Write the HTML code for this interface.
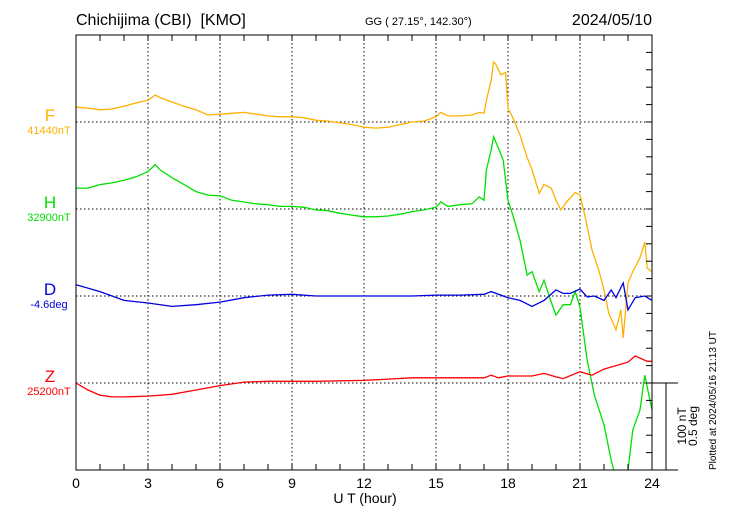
<!DOCTYPE html>
<html><head><meta charset="utf-8"><style>
body{margin:0;background:#fff;}
svg{font-family:"Liberation Sans",sans-serif;display:block}
text{white-space:pre}
</style></head><body>
<svg id="c" width="730" height="520" viewBox="0 0 730 520">
<defs><clipPath id="pc"><rect x="76" y="35" width="576" height="435"/></clipPath></defs>
<text x="76" y="25" font-size="16" xml:space="preserve">Chichijima (CBI)  [KMO]</text>
<text x="365" y="25" font-size="11">GG ( 27.15°, 142.30°)</text>
<text x="652" y="25" font-size="16" text-anchor="end">2024/05/10</text>
<g id="grid"></g>
<g id="lines" clip-path="url(#pc)"></g>
<g id="axes"></g>
<text x="365" y="503" font-size="14" text-anchor="middle">U T (hour)</text>
<text transform="translate(686,426) rotate(-90)" font-size="12" text-anchor="middle">100 nT</text>
<text transform="translate(697,426) rotate(-90)" font-size="12" text-anchor="middle">0.5 deg</text>
<text transform="translate(716,470) rotate(-90)" font-size="10">Plotted at 2024/05/16 21:13 UT</text>
</svg>
<script>
const comps=["F","H","D","Z"];
const colors=["#ffb000","#00e000","#0000e0","#ff0000"];
const baseLabels=["41440nT","32900nT","-4.6deg","25200nT"];
const xTicks=[0,3,6,9,12,15,18,21,24];
const tF=[0,0.5,1,1.5,2,2.5,3,3.3,3.5,4,4.5,5,5.5,6,6.5,7,7.5,8,8.5,9,9.5,10,10.5,11,11.5,12,12.5,13,13.5,14,14.5,15,15.2,15.5,16,16.5,16.8,17,17.1,17.3,17.4,17.5,17.7,17.9,18,18.2,18.5,18.8,19,19.3,19.5,19.8,20,20.2,20.5,20.8,21,21.2,21.5,21.8,22,22.2,22.5,22.7,22.8,23,23.2,23.5,23.7,23.8,24];
const vF=[17,16,14,15,18,22,25,31,28,23,18,14,8,9,10,11,9,7,6,6,5,2,1,-1,-3,-6,-7,-6,-3,0,1,6,11,7,7,8,11,10,25,48,69,66,54,57,16,5,-15,-41,-55,-82,-72,-76,-90,-101,-90,-81,-84,-107,-147,-172,-193,-220,-239,-216,-248,-185,-172,-156,-138,-168,-172];
const tH=[0,0.5,1,1.5,2,2.5,3,3.3,3.5,4,4.5,5,5.5,6,6.5,7,7.5,8,8.5,9,9.5,10,10.5,11,11.5,12,12.5,13,13.5,14,14.5,15,15.2,15.5,16,16.5,16.8,17,17.1,17.3,17.4,17.6,17.8,18,18.2,18.5,18.8,19,19.3,19.5,19.8,20,20.3,20.6,20.8,21,21.3,21.6,22,22.3,22.5,22.8,23,23.2,23.5,23.7,24];
const vH=[24,24,28,30,33,37,43,51,45,36,28,20,16,15,10,8,6,5,3,3,2,-1,-2,-5,-7,-9,-9,-8,-6,-3,-1,2,8,3,5,6,14,10,45,68,83,70,56,10,-7,-36,-76,-72,-95,-82,-107,-122,-110,-110,-95,-113,-174,-214,-248,-289,-310,-330,-300,-254,-231,-191,-231];
const tD=[0,1,2,3,4,5,6,7,8,9,10,11,12,13,14,15,16,17,17.3,18,18.5,19,19.5,20,20.3,20.6,21,21.3,21.6,22,22.3,22.5,22.8,23,23.3,23.7,24];
const vD=[13,5,-5,-8,-12,-10,-7,-2,1,2,0,0,0,0,0,1,1,2,5,-2,-5,-12,-5,7,3,3,8,-1,0,-5,7,-2,15,-16,-2,0,-5];
const tZ=[0,0.5,1,1.5,2,3,4,5,6,7,8,9,10,12,14,15,16,17,17.3,17.6,18,19,19.5,20,20.3,21,21.5,22,22.5,23,23.3,23.8,24];
const vZ=[0,-8,-14,-16,-16,-15,-13,-8,-3,1,2,2,2,3,6,6,6,6,9,6,8,8,11,7,5,13,9,16,20,24,31,25,25];
const series=[[tF,vF],[tH,vH],[tD,vD],[tZ,vZ]];
const X0=76,X1=652,Y0=35,Y1=470,PX=87/100;
const baseY=[122,209,296,383];
const xs=t=>X0+(X1-X0)*t/24;
const ys=(i,v)=>baseY[i]-v*PX;
const NS="http://www.w3.org/2000/svg";
function mk(tag,attrs,parent){const e=document.createElementNS(NS,tag);for(const k in attrs)e.setAttribute(k,attrs[k]);parent.appendChild(e);return e;}
const grid=document.getElementById('grid'),axes=document.getElementById('axes'),lines=document.getElementById('lines');
xTicks.forEach(t=>{if(t>0&&t<24){const l=mk('line',{x1:xs(t),x2:xs(t),y1:Y0,y2:Y1,stroke:'#000','stroke-dasharray':'1.5,2.5','stroke-width':1},grid);

}
const tx=mk('text',{x:xs(t),y:488,'font-size':14,'text-anchor':'middle'},axes);tx.textContent=t;

});
baseY.forEach((y,i)=>{const g=mk('line',{x1:X0,x2:X1,y1:y,y2:y,stroke:'#000','stroke-dasharray':'1.5,2.5','stroke-width':1},grid);


const a=mk('text',{x:50,y:y-1,'font-size':17,'text-anchor':'middle',fill:colors[i]},axes);a.textContent=comps[i];


const b=mk('text',{x:49,y:y+12,'font-size':11,'text-anchor':'middle',fill:colors[i]},axes);b.textContent=baseLabels[i];

});
for(let h=1;h<24;h++){mk('line',{x1:xs(h),x2:xs(h),y1:Y1,y2:Y1-6,stroke:'#000'},axes);mk('line',{x1:xs(h),x2:xs(h),y1:Y0,y2:Y0+6,stroke:'#000'},axes);}
for(let k=1;k<25;k++){const y=Y1-k*87/5;if(y>Y0+1)mk('line',{x1:X1,x2:X1-6,y1:y,y2:y,stroke:'#000'},axes);}
const fr=mk('rect',{x:X0,y:Y0,width:X1-X0,height:Y1-Y0,fill:'none',stroke:'#000','stroke-width':1},axes);


mk('line',{x1:X1,x2:678,y1:Y1,y2:Y1,stroke:'#000'},axes);
mk('line',{x1:X1,x2:678,y1:383,y2:383,stroke:'#000'},axes);
const sb=mk('line',{x1:666,x2:666,y1:383,y2:470,stroke:'#000'},axes);


series.forEach((s,i)=>{const d=s[0].map((t,j)=>(j?'L':'M')+xs(t).toFixed(1)+','+ys(i,s[1][j]).toFixed(1)).join('');
const p=mk('path',{d:d,fill:'none',stroke:colors[i],'stroke-width':1.3},lines);

});
</script>
</body></html>
